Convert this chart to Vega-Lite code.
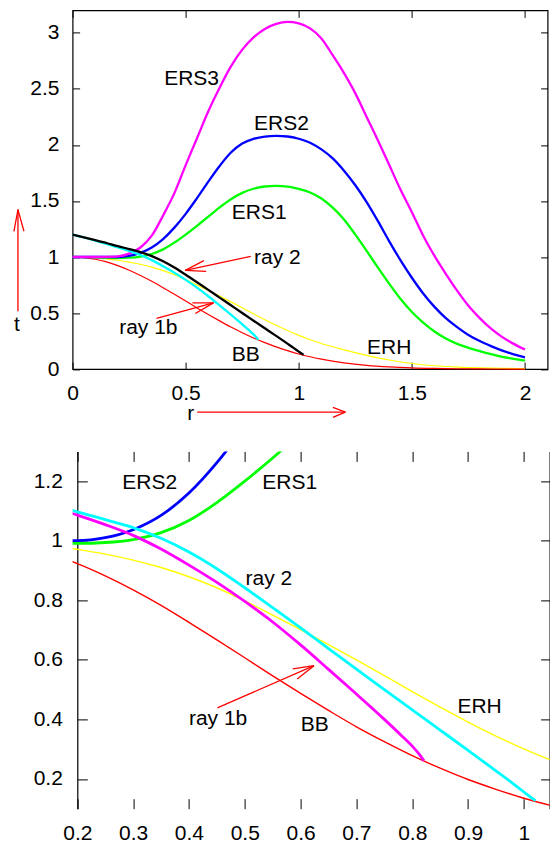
{
  "$schema": "https://vega.github.io/schema/vega-lite/v6.json",
  "padding": {"left": 12.6, "top": 8.4, "right": 0, "bottom": 0},
  "spacing": 26,
  "config": {
    "font": "Liberation Sans",
    "view": {"stroke": "black", "strokeWidth": 1.2},
    "axis": {"labelFont": "Liberation Sans", "labelFontSize": 21, "labelColor": "black", "tickColor": "black", "tickWidth": 1, "domainColor": "black", "domainWidth": 1.2, "grid": false, "labelFlush": false, "labelOverlap": false},
    "text": {"font": "Liberation Sans", "fontSize": 21, "color": "black"}
  },
  "resolve": {"scale": {"color": "independent"}},
  "datasets": {
    "curves": [
      {"curve": "ERH", "r": 0, "t": 1.0}, {"curve": "ERH", "r": 0.1, "t": 0.993}, {"curve": "ERH", "r": 0.15, "t": 0.984}, {"curve": "ERH", "r": 0.2, "t": 0.971}, {"curve": "ERH", "r": 0.25, "t": 0.955}, {"curve": "ERH", "r": 0.3, "t": 0.935}, {"curve": "ERH", "r": 0.35, "t": 0.91}, {"curve": "ERH", "r": 0.4, "t": 0.879}, {"curve": "ERH", "r": 0.45, "t": 0.842}, {"curve": "ERH", "r": 0.5, "t": 0.798}, {"curve": "ERH", "r": 0.55, "t": 0.75}, {"curve": "ERH", "r": 0.6, "t": 0.701}, {"curve": "ERH", "r": 0.65, "t": 0.651}, {"curve": "ERH", "r": 0.7, "t": 0.6}, {"curve": "ERH", "r": 0.75, "t": 0.547}, {"curve": "ERH", "r": 0.8, "t": 0.493}, {"curve": "ERH", "r": 0.85, "t": 0.441}, {"curve": "ERH", "r": 0.9, "t": 0.391}, {"curve": "ERH", "r": 0.95, "t": 0.344}, {"curve": "ERH", "r": 1.0, "t": 0.301}, {"curve": "ERH", "r": 1.05, "t": 0.262}, {"curve": "ERH", "r": 1.1, "t": 0.228}, {"curve": "ERH", "r": 1.2, "t": 0.172}, {"curve": "ERH", "r": 1.3, "t": 0.123}, {"curve": "ERH", "r": 1.4, "t": 0.081}, {"curve": "ERH", "r": 1.5, "t": 0.05}, {"curve": "ERH", "r": 1.6, "t": 0.03}, {"curve": "ERH", "r": 1.7, "t": 0.018}, {"curve": "ERH", "r": 1.8, "t": 0.011}, {"curve": "ERH", "r": 1.9, "t": 0.007}, {"curve": "ERH", "r": 2.0, "t": 0.004},
      {"curve": "BB", "r": 0, "t": 1.0}, {"curve": "BB", "r": 0.05, "t": 0.995}, {"curve": "BB", "r": 0.1, "t": 0.98}, {"curve": "BB", "r": 0.15, "t": 0.956}, {"curve": "BB", "r": 0.2, "t": 0.923}, {"curve": "BB", "r": 0.25, "t": 0.882}, {"curve": "BB", "r": 0.3, "t": 0.835}, {"curve": "BB", "r": 0.35, "t": 0.783}, {"curve": "BB", "r": 0.4, "t": 0.726}, {"curve": "BB", "r": 0.45, "t": 0.667}, {"curve": "BB", "r": 0.5, "t": 0.607}, {"curve": "BB", "r": 0.55, "t": 0.546}, {"curve": "BB", "r": 0.6, "t": 0.487}, {"curve": "BB", "r": 0.65, "t": 0.43}, {"curve": "BB", "r": 0.7, "t": 0.375}, {"curve": "BB", "r": 0.75, "t": 0.325}, {"curve": "BB", "r": 0.8, "t": 0.278}, {"curve": "BB", "r": 0.85, "t": 0.236}, {"curve": "BB", "r": 0.9, "t": 0.198}, {"curve": "BB", "r": 0.95, "t": 0.165}, {"curve": "BB", "r": 1.0, "t": 0.135}, {"curve": "BB", "r": 1.05, "t": 0.11}, {"curve": "BB", "r": 1.1, "t": 0.089}, {"curve": "BB", "r": 1.2, "t": 0.056}, {"curve": "BB", "r": 1.3, "t": 0.034}, {"curve": "BB", "r": 1.4, "t": 0.02}, {"curve": "BB", "r": 1.5, "t": 0.011}, {"curve": "BB", "r": 1.6, "t": 0.006}, {"curve": "BB", "r": 1.7, "t": 0.003}, {"curve": "BB", "r": 1.8, "t": 0.0015}, {"curve": "BB", "r": 1.9, "t": 0.0007}, {"curve": "BB", "r": 2.0, "t": 0.0003},
      {"curve": "ERS1", "r": 0, "t": 1.0}, {"curve": "ERS1", "r": 0.05, "t": 0.999}, {"curve": "ERS1", "r": 0.1, "t": 0.997}, {"curve": "ERS1", "r": 0.15, "t": 0.994}, {"curve": "ERS1", "r": 0.2, "t": 0.991}, {"curve": "ERS1", "r": 0.25, "t": 0.994}, {"curve": "ERS1", "r": 0.3, "t": 1.004}, {"curve": "ERS1", "r": 0.35, "t": 1.027}, {"curve": "ERS1", "r": 0.4, "t": 1.068}, {"curve": "ERS1", "r": 0.45, "t": 1.128}, {"curve": "ERS1", "r": 0.5, "t": 1.2}, {"curve": "ERS1", "r": 0.55, "t": 1.278}, {"curve": "ERS1", "r": 0.6, "t": 1.36}, {"curve": "ERS1", "r": 0.65, "t": 1.442}, {"curve": "ERS1", "r": 0.7, "t": 1.515}, {"curve": "ERS1", "r": 0.75, "t": 1.572}, {"curve": "ERS1", "r": 0.8, "t": 1.609}, {"curve": "ERS1", "r": 0.85, "t": 1.629}, {"curve": "ERS1", "r": 0.9, "t": 1.634}, {"curve": "ERS1", "r": 0.95, "t": 1.628}, {"curve": "ERS1", "r": 1.0, "t": 1.607}, {"curve": "ERS1", "r": 1.05, "t": 1.576}, {"curve": "ERS1", "r": 1.1, "t": 1.522}, {"curve": "ERS1", "r": 1.15, "t": 1.44}, {"curve": "ERS1", "r": 1.2, "t": 1.335}, {"curve": "ERS1", "r": 1.25, "t": 1.2}, {"curve": "ERS1", "r": 1.3, "t": 1.055}, {"curve": "ERS1", "r": 1.35, "t": 0.905}, {"curve": "ERS1", "r": 1.4, "t": 0.76}, {"curve": "ERS1", "r": 1.45, "t": 0.625}, {"curve": "ERS1", "r": 1.5, "t": 0.51}, {"curve": "ERS1", "r": 1.55, "t": 0.415}, {"curve": "ERS1", "r": 1.6, "t": 0.335}, {"curve": "ERS1", "r": 1.65, "t": 0.272}, {"curve": "ERS1", "r": 1.7, "t": 0.225}, {"curve": "ERS1", "r": 1.75, "t": 0.19}, {"curve": "ERS1", "r": 1.8, "t": 0.16}, {"curve": "ERS1", "r": 1.85, "t": 0.133}, {"curve": "ERS1", "r": 1.9, "t": 0.11}, {"curve": "ERS1", "r": 1.95, "t": 0.092}, {"curve": "ERS1", "r": 2.0, "t": 0.075},
      {"curve": "ERS2", "r": 0, "t": 1.0}, {"curve": "ERS2", "r": 0.05, "t": 1.0}, {"curve": "ERS2", "r": 0.1, "t": 1.0}, {"curve": "ERS2", "r": 0.15, "t": 1.0}, {"curve": "ERS2", "r": 0.2, "t": 1.0}, {"curve": "ERS2", "r": 0.25, "t": 1.01}, {"curve": "ERS2", "r": 0.3, "t": 1.037}, {"curve": "ERS2", "r": 0.35, "t": 1.085}, {"curve": "ERS2", "r": 0.4, "t": 1.16}, {"curve": "ERS2", "r": 0.45, "t": 1.262}, {"curve": "ERS2", "r": 0.5, "t": 1.385}, {"curve": "ERS2", "r": 0.55, "t": 1.525}, {"curve": "ERS2", "r": 0.6, "t": 1.672}, {"curve": "ERS2", "r": 0.65, "t": 1.812}, {"curve": "ERS2", "r": 0.7, "t": 1.932}, {"curve": "ERS2", "r": 0.75, "t": 2.012}, {"curve": "ERS2", "r": 0.8, "t": 2.054}, {"curve": "ERS2", "r": 0.85, "t": 2.074}, {"curve": "ERS2", "r": 0.9, "t": 2.08}, {"curve": "ERS2", "r": 0.95, "t": 2.075}, {"curve": "ERS2", "r": 1.0, "t": 2.055}, {"curve": "ERS2", "r": 1.05, "t": 2.02}, {"curve": "ERS2", "r": 1.1, "t": 1.96}, {"curve": "ERS2", "r": 1.15, "t": 1.88}, {"curve": "ERS2", "r": 1.2, "t": 1.77}, {"curve": "ERS2", "r": 1.25, "t": 1.64}, {"curve": "ERS2", "r": 1.3, "t": 1.49}, {"curve": "ERS2", "r": 1.35, "t": 1.32}, {"curve": "ERS2", "r": 1.4, "t": 1.14}, {"curve": "ERS2", "r": 1.45, "t": 0.97}, {"curve": "ERS2", "r": 1.5, "t": 0.815}, {"curve": "ERS2", "r": 1.55, "t": 0.675}, {"curve": "ERS2", "r": 1.6, "t": 0.555}, {"curve": "ERS2", "r": 1.65, "t": 0.455}, {"curve": "ERS2", "r": 1.7, "t": 0.375}, {"curve": "ERS2", "r": 1.75, "t": 0.305}, {"curve": "ERS2", "r": 1.8, "t": 0.25}, {"curve": "ERS2", "r": 1.85, "t": 0.205}, {"curve": "ERS2", "r": 1.9, "t": 0.165}, {"curve": "ERS2", "r": 1.95, "t": 0.132}, {"curve": "ERS2", "r": 2.0, "t": 0.105},
      {"curve": "ERS3", "r": 0, "t": 1.0}, {"curve": "ERS3", "r": 0.05, "t": 1.0}, {"curve": "ERS3", "r": 0.1, "t": 1.0}, {"curve": "ERS3", "r": 0.15, "t": 1.001}, {"curve": "ERS3", "r": 0.2, "t": 1.005}, {"curve": "ERS3", "r": 0.25, "t": 1.03}, {"curve": "ERS3", "r": 0.3, "t": 1.085}, {"curve": "ERS3", "r": 0.35, "t": 1.19}, {"curve": "ERS3", "r": 0.4, "t": 1.37}, {"curve": "ERS3", "r": 0.45, "t": 1.57}, {"curve": "ERS3", "r": 0.5, "t": 1.82}, {"curve": "ERS3", "r": 0.55, "t": 2.06}, {"curve": "ERS3", "r": 0.6, "t": 2.3}, {"curve": "ERS3", "r": 0.65, "t": 2.51}, {"curve": "ERS3", "r": 0.7, "t": 2.7}, {"curve": "ERS3", "r": 0.75, "t": 2.85}, {"curve": "ERS3", "r": 0.8, "t": 2.96}, {"curve": "ERS3", "r": 0.85, "t": 3.035}, {"curve": "ERS3", "r": 0.9, "t": 3.08}, {"curve": "ERS3", "r": 0.95, "t": 3.098}, {"curve": "ERS3", "r": 1.0, "t": 3.085}, {"curve": "ERS3", "r": 1.05, "t": 3.04}, {"curve": "ERS3", "r": 1.1, "t": 2.95}, {"curve": "ERS3", "r": 1.15, "t": 2.8}, {"curve": "ERS3", "r": 1.2, "t": 2.64}, {"curve": "ERS3", "r": 1.25, "t": 2.46}, {"curve": "ERS3", "r": 1.3, "t": 2.25}, {"curve": "ERS3", "r": 1.35, "t": 2.04}, {"curve": "ERS3", "r": 1.4, "t": 1.82}, {"curve": "ERS3", "r": 1.45, "t": 1.6}, {"curve": "ERS3", "r": 1.5, "t": 1.4}, {"curve": "ERS3", "r": 1.55, "t": 1.19}, {"curve": "ERS3", "r": 1.6, "t": 1.01}, {"curve": "ERS3", "r": 1.65, "t": 0.85}, {"curve": "ERS3", "r": 1.7, "t": 0.7}, {"curve": "ERS3", "r": 1.75, "t": 0.565}, {"curve": "ERS3", "r": 1.8, "t": 0.455}, {"curve": "ERS3", "r": 1.85, "t": 0.36}, {"curve": "ERS3", "r": 1.9, "t": 0.285}, {"curve": "ERS3", "r": 1.95, "t": 0.225}, {"curve": "ERS3", "r": 2.0, "t": 0.175},
      {"curve": "ray 1b", "r": 0, "t": 1.2}, {"curve": "ray 1b", "r": 0.05, "t": 1.174}, {"curve": "ray 1b", "r": 0.1, "t": 1.146}, {"curve": "ray 1b", "r": 0.15, "t": 1.116}, {"curve": "ray 1b", "r": 0.2, "t": 1.086}, {"curve": "ray 1b", "r": 0.25, "t": 1.054}, {"curve": "ray 1b", "r": 0.3, "t": 1.018}, {"curve": "ray 1b", "r": 0.35, "t": 0.972}, {"curve": "ray 1b", "r": 0.4, "t": 0.918}, {"curve": "ray 1b", "r": 0.45, "t": 0.86}, {"curve": "ray 1b", "r": 0.5, "t": 0.796}, {"curve": "ray 1b", "r": 0.55, "t": 0.727}, {"curve": "ray 1b", "r": 0.6, "t": 0.65}, {"curve": "ray 1b", "r": 0.65, "t": 0.568}, {"curve": "ray 1b", "r": 0.7, "t": 0.485}, {"curve": "ray 1b", "r": 0.75, "t": 0.4}, {"curve": "ray 1b", "r": 0.78, "t": 0.347}, {"curve": "ray 1b", "r": 0.8, "t": 0.31}, {"curve": "ray 1b", "r": 0.812, "t": 0.284}, {"curve": "ray 1b", "r": 0.821, "t": 0.261},
      {"curve": "ray 2", "r": 0, "t": 1.2}, {"curve": "ray 2", "r": 0.05, "t": 1.176}, {"curve": "ray 2", "r": 0.1, "t": 1.151}, {"curve": "ray 2", "r": 0.15, "t": 1.125}, {"curve": "ray 2", "r": 0.2, "t": 1.097}, {"curve": "ray 2", "r": 0.25, "t": 1.071}, {"curve": "ray 2", "r": 0.3, "t": 1.044}, {"curve": "ray 2", "r": 0.35, "t": 1.008}, {"curve": "ray 2", "r": 0.4, "t": 0.962}, {"curve": "ray 2", "r": 0.45, "t": 0.906}, {"curve": "ray 2", "r": 0.5, "t": 0.842}, {"curve": "ray 2", "r": 0.55, "t": 0.775}, {"curve": "ray 2", "r": 0.6, "t": 0.707}, {"curve": "ray 2", "r": 0.65, "t": 0.638}, {"curve": "ray 2", "r": 0.7, "t": 0.569}, {"curve": "ray 2", "r": 0.75, "t": 0.5}, {"curve": "ray 2", "r": 0.8, "t": 0.432}, {"curve": "ray 2", "r": 0.85, "t": 0.364}, {"curve": "ray 2", "r": 0.9, "t": 0.296}, {"curve": "ray 2", "r": 0.95, "t": 0.227}, {"curve": "ray 2", "r": 0.98, "t": 0.185}, {"curve": "ray 2", "r": 1.0, "t": 0.156}, {"curve": "ray 2", "r": 1.012, "t": 0.139}, {"curve": "ray 2", "r": 1.021, "t": 0.127}
    ],
    "labels": [
      {"panel": "top", "label": "ERS3", "x": 0.405, "y": 2.533},
      {"panel": "top", "label": "ERS2", "x": 0.8025, "y": 2.137},
      {"panel": "top", "label": "ERS1", "x": 0.704, "y": 1.34},
      {"panel": "top", "label": "ray 2", "x": 0.8025, "y": 0.9375},
      {"panel": "top", "label": "ray 1b", "x": 0.206, "y": 0.3125},
      {"panel": "top", "label": "BB", "x": 0.704, "y": 0.075},
      {"panel": "top", "label": "ERH", "x": 1.3017, "y": 0.1375},
      {"panel": "top", "label": "t", "x": -0.259, "y": 0.343},
      {"panel": "top", "label": "r", "x": 0.5066, "y": -0.452},
      {"panel": "bottom", "label": "ERS2", "x": 0.2806, "y": 1.1727},
      {"panel": "bottom", "label": "ERS1", "x": 0.5314, "y": 1.1737},
      {"panel": "bottom", "label": "ray 2", "x": 0.5015, "y": 0.852},
      {"panel": "bottom", "label": "ray 1b", "x": 0.4, "y": 0.3826},
      {"panel": "bottom", "label": "BB", "x": 0.6002, "y": 0.3625},
      {"panel": "bottom", "label": "ERH", "x": 0.881, "y": 0.4218}
    ],
    "arrows": [
      {"panel": "top", "x1": -0.2416, "y1": 0.515, "x2": -0.2416, "y2": 1.423},
      {"panel": "top", "x1": -0.2593, "y1": 1.2295, "x2": -0.2416, "y2": 1.423},
      {"panel": "top", "x1": -0.2151, "y1": 1.2295, "x2": -0.2416, "y2": 1.423},
      {"panel": "top", "x1": 0.551, "y1": -0.384, "x2": 1.206, "y2": -0.384},
      {"panel": "top", "x1": 1.151, "y1": -0.342, "x2": 1.206, "y2": -0.384},
      {"panel": "top", "x1": 1.151, "y1": -0.431, "x2": 1.206, "y2": -0.384},
      {"panel": "top", "x1": 0.7876, "y1": 1.006, "x2": 0.4978, "y2": 0.881},
      {"panel": "top", "x1": 0.5906, "y1": 0.8714, "x2": 0.4978, "y2": 0.881},
      {"panel": "top", "x1": 0.5804, "y1": 0.967, "x2": 0.4978, "y2": 0.881},
      {"panel": "top", "x1": 0.371, "y1": 0.4527, "x2": 0.6228, "y2": 0.591},
      {"panel": "top", "x1": 0.53, "y1": 0.59, "x2": 0.6228, "y2": 0.591},
      {"panel": "top", "x1": 0.5424, "y1": 0.4964, "x2": 0.6228, "y2": 0.591},
      {"panel": "bottom", "x1": 0.4509, "y1": 0.4386, "x2": 0.624, "y2": 0.5804},
      {"panel": "bottom", "x1": 0.5859, "y1": 0.5697, "x2": 0.624, "y2": 0.5804},
      {"panel": "bottom", "x1": 0.5939, "y1": 0.5355, "x2": 0.624, "y2": 0.5804}
    ]
  },
  "vconcat": [
    {
      "width": 475,
      "height": 358.7,
      "resolve": {"axis": {"x": "independent", "y": "independent"}},
      "layer": [
        {
          "data": {"name": "curves"},
          "transform": [{"filter": "datum.curve === 'ERH' || datum.curve === 'BB'"}],
          "mark": {"type": "line", "strokeWidth": 1.2, "interpolate": "monotone"},
          "encoding": {
            "x": {"field": "r", "type": "quantitative", "scale": {"domain": [0, 2.1], "nice": false, "zero": false},
                  "axis": {"orient": "bottom", "values": [0, 0.5, 1, 1.5, 2], "format": "~g", "title": null, "domain": false, "tickSize": -7, "labelPadding": 20.6}},
            "y": {"field": "t", "type": "quantitative", "scale": {"domain": [0, 3.2], "nice": false, "zero": false},
                  "axis": {"orient": "left", "values": [0, 0.5, 1, 1.5, 2, 2.5, 3], "format": "~g", "title": null, "domain": false, "tickSize": -7, "labelPadding": 20.7}},
            "color": {"field": "curve", "type": "nominal", "legend": null,
                      "scale": {"domain": ["ERH", "BB", "ERS1", "ERS2", "ERS3", "ray 1b", "ray 2"], "range": ["#ffff00", "#ff0000", "#00ff00", "#0000ff", "#ff00ff", "#00ffff", "#000000"]}}
          }
        },
        {
          "data": {"name": "curves"},
          "transform": [{"filter": "datum.curve !== 'ERH' && datum.curve !== 'BB'"}],
          "mark": {"type": "line", "strokeWidth": 2.3, "interpolate": "monotone"},
          "encoding": {
            "x": {"field": "r", "type": "quantitative",
                  "axis": {"orient": "top", "values": [0, 0.5, 1, 1.5, 2], "labels": false, "title": null, "domain": false, "tickSize": -7}},
            "y": {"field": "t", "type": "quantitative",
                  "axis": {"orient": "right", "values": [0, 0.5, 1, 1.5, 2, 2.5, 3], "labels": false, "title": null, "domain": false, "tickSize": -7}},
            "color": {"field": "curve", "type": "nominal", "legend": null}
          }
        },
        {
          "data": {"name": "labels"},
          "transform": [{"filter": "datum.panel === 'top'"}],
          "mark": {"type": "text", "align": "left", "baseline": "alphabetic", "fontSize": 21, "font": "Liberation Sans", "color": "black"},
          "encoding": {
            "x": {"field": "x", "type": "quantitative", "axis": null},
            "y": {"field": "y", "type": "quantitative", "axis": null},
            "text": {"field": "label"}
          }
        },
        {
          "data": {"name": "arrows"},
          "transform": [{"filter": "datum.panel === 'top'"}],
          "mark": {"type": "rule", "color": "#ff0000", "strokeWidth": 1.3},
          "encoding": {
            "x": {"field": "x1", "type": "quantitative", "axis": null},
            "y": {"field": "y1", "type": "quantitative", "axis": null},
            "x2": {"field": "x2"},
            "y2": {"field": "y2"}
          }
        }
      ]
    },
    {
      "width": 477,
      "height": 357.3,
      "view": {"stroke": null},
      "resolve": {"axis": {"x": "independent", "y": "independent"}},
      "layer": [
        {
          "data": {"name": "curves"},
          "transform": [{"filter": "datum.curve === 'ERH' || datum.curve === 'BB'"}],
          "mark": {"type": "line", "strokeWidth": 1.4, "interpolate": "monotone", "clip": true},
          "encoding": {
            "x": {"field": "r", "type": "quantitative", "scale": {"domain": [0.19158, 1.04604], "nice": false, "zero": false},
                  "axis": {"orient": "bottom", "values": [0.2, 0.3, 0.4, 0.5, 0.6, 0.7, 0.8, 0.9, 1], "format": "~g", "title": null, "domain": false, "tickSize": -10, "labelPadding": 23.7}},
            "y": {"field": "t", "type": "quantitative", "scale": {"domain": [0.1, 1.3], "nice": false, "zero": false},
                  "axis": {"orient": "left", "values": [0.2, 0.4, 0.6, 0.8, 1, 1.2], "format": "~g", "title": null, "domain": true, "offset": -4.7, "tickSize": -10, "labelPadding": 25}},
            "color": {"field": "curve", "type": "nominal", "legend": null,
                      "scale": {"domain": ["ERH", "BB", "ERS1", "ERS2", "ray 1b", "ray 2"], "range": ["#ffff00", "#ff0000", "#00ff00", "#0000ff", "#ff00ff", "#00ffff"]}}
          }
        },
        {
          "data": {"name": "curves"},
          "transform": [{"filter": "datum.curve !== 'ERH' && datum.curve !== 'BB' && datum.curve !== 'ERS3'"}],
          "mark": {"type": "line", "strokeWidth": 2.8, "interpolate": "monotone", "clip": true},
          "encoding": {
            "x": {"field": "r", "type": "quantitative",
                  "axis": {"orient": "top", "values": [0.2, 0.3, 0.4, 0.5, 0.6, 0.7, 0.8, 0.9, 1], "labels": false, "title": null, "domain": false, "tickSize": -10}},
            "y": {"field": "t", "type": "quantitative",
                  "axis": {"orient": "right", "values": [0.2, 0.4, 0.6, 0.8, 1, 1.2], "labels": false, "title": null, "domain": true, "tickSize": -9}},
            "color": {"field": "curve", "type": "nominal", "legend": null}
          }
        },
        {
          "mark": {"type": "rule", "color": "black", "strokeWidth": 1.2},
          "encoding": {
            "x": {"datum": 0.2, "type": "quantitative", "axis": null},
            "x2": {"datum": 1.04604},
            "y": {"datum": 1.3, "type": "quantitative", "axis": null}
          }
        },
        {
          "mark": {"type": "rule", "color": "black", "strokeWidth": 1.2},
          "encoding": {
            "x": {"datum": 0.2, "type": "quantitative", "axis": null},
            "x2": {"datum": 1.04604},
            "y": {"datum": 0.1, "type": "quantitative", "axis": null}
          }
        },
        {
          "data": {"name": "labels"},
          "transform": [{"filter": "datum.panel === 'bottom'"}],
          "mark": {"type": "text", "align": "left", "baseline": "alphabetic", "fontSize": 21, "font": "Liberation Sans", "color": "black"},
          "encoding": {
            "x": {"field": "x", "type": "quantitative", "axis": null},
            "y": {"field": "y", "type": "quantitative", "axis": null},
            "text": {"field": "label"}
          }
        },
        {
          "data": {"name": "arrows"},
          "transform": [{"filter": "datum.panel === 'bottom'"}],
          "mark": {"type": "rule", "color": "#ff0000", "strokeWidth": 1.3},
          "encoding": {
            "x": {"field": "x1", "type": "quantitative", "axis": null},
            "y": {"field": "y1", "type": "quantitative", "axis": null},
            "x2": {"field": "x2"},
            "y2": {"field": "y2"}
          }
        }
      ]
    }
  ]
}
